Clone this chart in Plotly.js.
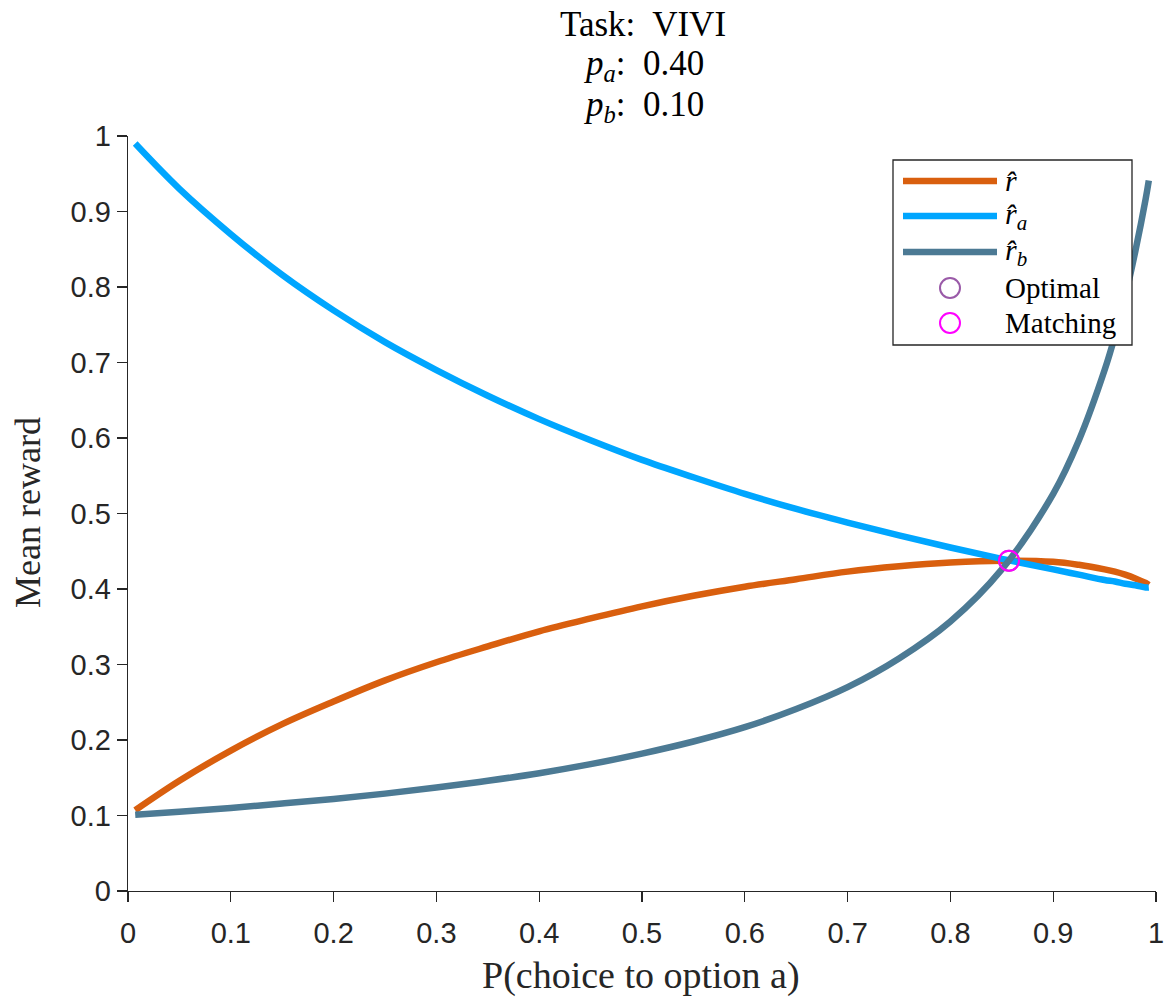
<!DOCTYPE html>
<html>
<head>
<meta charset="utf-8">
<script src="https://cdn.plot.ly/plotly-3.0.1.min.js"></script>
<style>html,body{margin:0;padding:0;background:#fff;}#chart{width:1175px;height:998px;}</style>
</head>
<body>
<div id="chart"></div>
<script>
// Choice probability for option a (x axis)
const pChoice = [0.007, 0.05, 0.1, 0.15, 0.2, 0.25, 0.3, 0.35, 0.4, 0.45, 0.5, 0.55, 0.6, 0.65, 0.7, 0.75, 0.8, 0.85, 0.9, 0.925, 0.95, 0.96, 0.97, 0.98, 0.99, 0.993];
// Mean reward overall (r hat)
const rHat = [0.107, 0.146, 0.186, 0.221, 0.251, 0.279, 0.303, 0.324, 0.344, 0.361, 0.377, 0.391, 0.403, 0.413, 0.423, 0.430, 0.435, 0.4375, 0.436, 0.432, 0.426, 0.423, 0.419, 0.414, 0.408, 0.4055];
// Mean reward from option a
const rHatA = [0.990, 0.930, 0.870, 0.816, 0.769, 0.727, 0.690, 0.656, 0.625, 0.597, 0.571, 0.548, 0.526, 0.506, 0.488, 0.471, 0.455, 0.440, 0.426, 0.419, 0.412, 0.410, 0.407, 0.405, 0.402, 0.402];
// Mean reward from option b
const rHatB = [0.101, 0.105, 0.110, 0.116, 0.122, 0.129, 0.137, 0.146, 0.156, 0.168, 0.182, 0.198, 0.217, 0.241, 0.270, 0.308, 0.357, 0.426, 0.526, 0.597, 0.690, 0.735, 0.787, 0.848, 0.917, 0.941];
// Special points
const optimalX = [0.857], optimalY = [0.4375];
const matchingX = [0.857], matchingY = [0.4375];
const xTicks = [0, 0.1, 0.2, 0.3, 0.4, 0.5, 0.6, 0.7, 0.8, 0.9, 1];
const xTickText = ['0', '0.1', '0.2', '0.3', '0.4', '0.5', '0.6', '0.7', '0.8', '0.9', '1'];
const yTicks = [0, 0.1, 0.2, 0.3, 0.4, 0.5, 0.6, 0.7, 0.8, 0.9, 1];
const yTickText = ['0', '0.1', '0.2', '0.3', '0.4', '0.5', '0.6', '0.7', '0.8', '0.9', '1'];
const titleLines = ['Task:  VIVI', '<i>p</i><sub><i>a</i></sub>:  0.40', '<i>p</i><sub><i>b</i></sub>:  0.10'];
const legendNames = ['<i>r̂</i>', '<i>r̂</i><sub><i>a</i></sub>', '<i>r̂</i><sub><i>b</i></sub>', 'Optimal', 'Matching'];
const xTitle = 'P(choice to option a)';
const yTitle = 'Mean reward';

const serif = 'Liberation Serif, Times New Roman, serif';
const sans = 'Liberation Sans, Arial, sans-serif';
const colors = ['#D95F0E', '#00A6FF', '#4C7A94', '#9A5AA8', '#FF00FF'];

const traces = [
  {x: pChoice, y: rHat, mode: 'lines', name: legendNames[0], line: {color: colors[0], width: 6.5, shape: 'spline'}},
  {x: pChoice, y: rHatA, mode: 'lines', name: legendNames[1], line: {color: colors[1], width: 6.5, shape: 'spline'}},
  {x: pChoice, y: rHatB, mode: 'lines', name: legendNames[2], line: {color: colors[2], width: 6.5, shape: 'spline'}},
  {x: optimalX, y: optimalY, mode: 'markers', name: legendNames[3], marker: {symbol: 'circle-open', size: 20, color: colors[3], line: {width: 2}}},
  {x: matchingX, y: matchingY, mode: 'markers', name: legendNames[4], marker: {symbol: 'circle-open', size: 20, color: colors[4], line: {width: 2}}}
];

// Plot area in pixels: left 128, right 1156, top 136, bottom 891
const W = 1028, H = 755, L = 128, B = 891;
const px = v => (v - L) / W;
const py = v => (B - v) / H;

const shapes = [];
const annotations = [];

// Title lines
const titleY = [24, 66, 106];
titleLines.forEach((t, i) => {
  annotations.push({xref: 'paper', yref: 'paper', x: px(643), y: py(titleY[i]), xanchor: 'center', yanchor: 'middle',
    text: t, showarrow: false, font: {family: serif, size: 35, color: '#000'}});
});

// Axis titles
annotations.push({xref: 'paper', yref: 'paper', x: px(641), y: py(975), xanchor: 'center', yanchor: 'middle',
  text: xTitle, showarrow: false, font: {family: serif, size: 38, color: '#262626'}});
annotations.push({xref: 'paper', yref: 'paper', x: px(28), y: py(513), xanchor: 'center', yanchor: 'middle',
  text: yTitle, showarrow: false, textangle: -90, font: {family: serif, size: 36, color: '#262626'}});

// Custom legend
shapes.push({type: 'rect', xref: 'paper', yref: 'paper', x0: px(893), x1: px(1132), y0: py(345), y1: py(160),
  line: {color: '#262626', width: 1.3}, fillcolor: '#fff', layer: 'above'});
const itemY = [181, 216, 252, 288, 323];
for (let i = 0; i < 3; i++) {
  shapes.push({type: 'line', xref: 'paper', yref: 'paper', x0: px(903), x1: px(997), y0: py(itemY[i]), y1: py(itemY[i]),
    line: {color: colors[i], width: 6.5}, layer: 'above'});
}
for (let i = 3; i < 5; i++) {
  shapes.push({type: 'circle', xref: 'paper', yref: 'paper', xsizemode: 'pixel', ysizemode: 'pixel',
    xanchor: px(950), yanchor: py(itemY[i]), x0: -10, x1: 10, y0: -10, y1: 10,
    line: {color: colors[i], width: 2}, fillcolor: 'rgba(0,0,0,0)', layer: 'above'});
}
legendNames.forEach((n, i) => {
  annotations.push({xref: 'paper', yref: 'paper', x: px(1003), y: py(itemY[i]), xanchor: 'left', yanchor: 'middle',
    text: n, showarrow: false, font: {family: serif, size: i < 3 ? 30 : 29, color: '#000'}});
});

const layout = {
  width: 1175, height: 998,
  margin: {l: 128, r: 19, t: 136, b: 107},
  paper_bgcolor: '#fff', plot_bgcolor: '#fff',
  showlegend: false,
  xaxis: {
    range: [0, 1], tickvals: xTicks, ticktext: xTickText,
    showgrid: false, zeroline: false, showline: true, linecolor: '#262626', linewidth: 1.3,
    ticks: 'outside', ticklen: 10, tickwidth: 1.3, tickcolor: '#262626',
    tickfont: {family: sans, size: 29, color: '#262626'}, ticklabelstandoff: 6,
    mirror: false
  },
  yaxis: {
    range: [0, 1], tickvals: yTicks, ticktext: yTickText,
    showgrid: false, zeroline: false, showline: true, linecolor: '#262626', linewidth: 1.3,
    ticks: 'outside', ticklen: 10, tickwidth: 1.3, tickcolor: '#262626',
    tickfont: {family: sans, size: 29, color: '#262626'}
  },
  shapes: shapes,
  annotations: annotations
};

Plotly.newPlot('chart', traces, layout, {displayModeBar: false, staticPlot: true});
</script>
</body>
</html>
